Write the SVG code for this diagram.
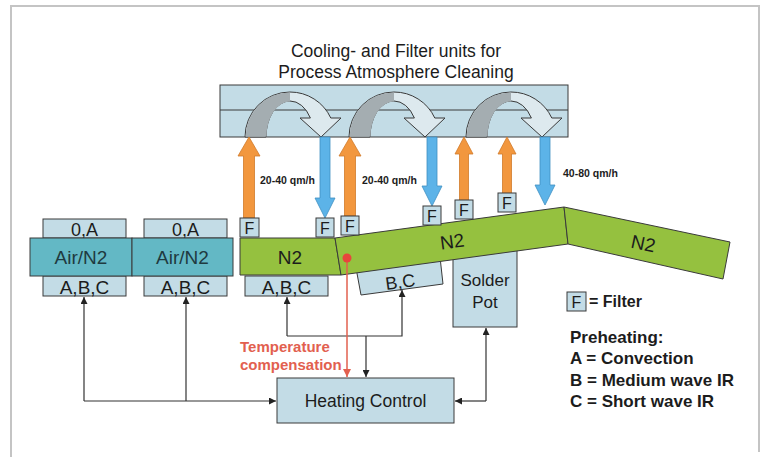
<svg xmlns="http://www.w3.org/2000/svg" width="766" height="457" viewBox="0 0 766 457">
<style>
text{font-family:"Liberation Sans",Arial,sans-serif;fill:#1c1c1c}
.lb{fill:#c3dce6;stroke:#3a3a3a;stroke-width:1}
.teal{fill:#63b8c5;stroke:#3a3a3a;stroke-width:1}
.green{fill:#95c13f;stroke:#3a3a3a;stroke-width:1}
.org{fill:#f2973e;stroke:#d07a2a;stroke-width:0.8}
.blu{fill:#5cb3e8;stroke:#3f8fc2;stroke-width:0.8}
.con{fill:none;stroke:#333;stroke-width:1.2}
.red{fill:none;stroke:#e2604f;stroke-width:1.5}
.ft{font-size:16px;text-anchor:middle}
.flow{font-size:10.5px;font-weight:bold}
.leg{font-size:17px;font-weight:bold}
.lab{text-anchor:middle}
.cl{fill:#dde9ee;stroke:#3a3a3a;stroke-width:1}
.cg{fill:#a4adb1;stroke:none}
</style>
<defs>
<marker id="ah" viewBox="0 0 10 10" refX="10" refY="5" markerWidth="7" markerHeight="7" orient="auto" markerUnits="userSpaceOnUse"><path d="M0,0 L10,5 L0,10 Z" fill="#222"/></marker>
<marker id="ahr" viewBox="0 0 10 10" refX="10" refY="5" markerWidth="8" markerHeight="8" orient="auto" markerUnits="userSpaceOnUse"><path d="M0,0 L10,5 L0,10 Z" fill="#e2604f"/></marker>
<path id="curl" d="M245,137 A45,45 0 0 1 290,92 A45,45 0 0 1 330.8,118 L341,118 L321,137 L300,118 L310.4,118 A24,36 0 0 0 290,101 A24,36 0 0 0 266,137 Z"/>
<path id="curlg" d="M245.6,136.5 A44.5,44.5 0 0 1 290,92.5 L290,101.5 A23.5,35.5 0 0 0 266.5,136.5 Z"/>
</defs>

<!-- frame -->
<path d="M11,457 V6 H759 V452" fill="none" stroke="#c4c4c4" stroke-width="2"/>

<!-- title -->
<g id="title">
<text x="396" y="57" font-size="17.5" class="lab">Cooling- and Filter units for</text>
<text x="396" y="78" font-size="17.5" class="lab">Process Atmosphere Cleaning</text>
</g>

<!-- cooling/filter unit -->
<g id="cooling-unit">
<rect x="220" y="85" width="348" height="52" class="lb"/>
<line x1="220" y1="110" x2="568" y2="110" stroke="#3a3a3a" stroke-width="1"/>
<use href="#curl" class="cl"/><use href="#curlg" class="cg"/>
<g transform="translate(104,0)"><use href="#curl" class="cl"/><use href="#curlg" class="cg"/></g>
<g transform="translate(221,0)"><use href="#curl" class="cl"/><use href="#curlg" class="cg"/></g>
</g>

<!-- flow arrows -->
<g id="flows">
<polygon class="org" points="243.5,218 243.5,156 238,156 249,137 260,156 254.5,156 254.5,218"/>
<polygon class="org" points="344.5,216 344.5,156 339,156 350,137 361,156 355.5,156 355.5,216"/>
<polygon class="org" points="459.5,201 459.5,154 455,154 464,137 473,154 468.5,154 468.5,201"/>
<polygon class="org" points="502.5,194 502.5,154 498,154 507,137 516,154 511.5,154 511.5,194"/>
<polygon class="blu" points="320,137 320,198 315,198 325,218 335,198 330,198 330,137"/>
<polygon class="blu" points="427,137 427,186 422,186 432,206 442,186 437,186 437,137"/>
<polygon class="blu" points="540,137 540,185 535,185 545,205 555,185 550,185 550,137"/>
<text x="260" y="184" class="flow">20-40 qm/h</text>
<text x="362" y="184" class="flow">20-40 qm/h</text>
<text x="563" y="177" class="flow">40-80 qm/h</text>
</g>

<!-- zone 1 -->
<g id="zone1">
<rect x="43" y="219" width="83" height="19" class="lb"/>
<text x="84.5" y="236" font-size="18" class="lab">0,A</text>
<rect x="43" y="276" width="83" height="20" class="lb"/>
<text x="84.5" y="294" font-size="19" class="lab">A,B,C</text>
<rect x="30" y="238" width="102" height="38" class="teal"/>
<text x="81" y="264" font-size="19" class="lab" style="fill:#203a40">Air/N2</text>
</g>

<!-- zone 2 -->
<g id="zone2">
<rect x="144" y="219" width="83" height="19" class="lb"/>
<text x="185.5" y="236" font-size="18" class="lab">0,A</text>
<rect x="144" y="276" width="83" height="20" class="lb"/>
<text x="185.5" y="294" font-size="19" class="lab">A,B,C</text>
<rect x="132" y="238" width="101" height="38" class="teal"/>
<text x="182.5" y="264" font-size="19" class="lab" style="fill:#203a40">Air/N2</text>
</g>

<!-- zone 3 -->
<g id="zone3">
<rect x="245" y="276" width="83" height="20" class="lb"/>
<text x="286.5" y="294" font-size="19" class="lab">A,B,C</text>
<polygon points="240,238 335,238 341,275 240,275" class="green"/>
<text x="290" y="264" font-size="19" class="lab">N2</text>
</g>

<!-- solder pot -->
<g id="solder-pot">
<rect x="453" y="248" width="64" height="79" class="lb"/>
<text x="485" y="286" font-size="17" class="lab">Solder</text>
<text x="485" y="308" font-size="17" class="lab">Pot</text>
</g>

<!-- zone 4 (B,C) -->
<g id="zone4">
<polygon points="356,268 440,257 443,284 361,295" class="lb"/>
<text transform="translate(401,288) rotate(-7.7)" font-size="18" class="lab">B,C</text>
<polygon points="335,238 564,207 568,244 341,275" class="green"/>
<text transform="translate(453,248) rotate(-7.7)" font-size="19" class="lab">N2</text>
</g>

<!-- zone 5 -->
<g id="zone5">
<polygon points="564,207 730,242 723,279 568,244" class="green"/>
<text transform="translate(642,250) rotate(12)" font-size="19" class="lab">N2</text>
</g>

<!-- filters -->
<g id="filters">
<rect x="240" y="218" width="19" height="19" class="lb"/><text x="249.5" y="234" class="ft">F</text>
<rect x="316" y="218" width="18" height="19" class="lb"/><text x="325" y="234" class="ft">F</text>
<rect x="341" y="216" width="18" height="19" class="lb"/><text x="350" y="232" class="ft">F</text>
<rect x="423" y="206" width="18" height="19" class="lb"/><text x="432" y="222" class="ft">F</text>
<rect x="455" y="200" width="18" height="19" class="lb"/><text x="464" y="216" class="ft">F</text>
<rect x="498" y="193" width="18" height="19" class="lb"/><text x="507" y="209" class="ft">F</text>
</g>

<!-- heating control -->
<g id="heating-control">
<rect x="277" y="378" width="177" height="45" class="lb"/>
<text x="365.5" y="407" font-size="17.5" class="lab">Heating Control</text>
</g>

<!-- connectors -->
<g id="connectors">
<path class="con" d="M84,401 H276" marker-end="url(#ah)"/>
<path class="con" d="M84,401 V297" marker-end="url(#ah)"/>
<path class="con" d="M186,401 V297" marker-end="url(#ah)"/>
<path class="con" d="M287,336 V297" marker-end="url(#ah)"/>
<path class="con" d="M287,336 H402 V290" marker-end="url(#ah)"/>
<path class="con" d="M366,336 V377" marker-end="url(#ah)"/>
<path class="con" d="M486,401 V328" marker-end="url(#ah)"/>
<path class="con" d="M486,401 H455" marker-end="url(#ah)"/>
<path class="red" d="M347,258 V377" marker-end="url(#ahr)"/>
<circle cx="347" cy="258" r="4.5" fill="#e8453c"/>
</g>

<g id="temp-label">
<text x="240" y="352" font-size="15" font-weight="bold" style="fill:#e2604f">Temperature</text>
<text x="240" y="370" font-size="15" font-weight="bold" style="fill:#e2604f">compensation</text>
</g>

<!-- legend -->
<g id="legend">
<rect x="567" y="292" width="19" height="19" class="lb"/>
<text x="576.5" y="308" class="ft">F</text>
<text x="589" y="307" font-size="16" font-weight="bold">= Filter</text>
<text x="570" y="343" class="leg">Preheating:</text>
<text x="570" y="364" class="leg">A = Convection</text>
<text x="570" y="386" class="leg">B = Medium wave IR</text>
<text x="570" y="407" class="leg">C = Short wave IR</text>
</g>
</svg>
